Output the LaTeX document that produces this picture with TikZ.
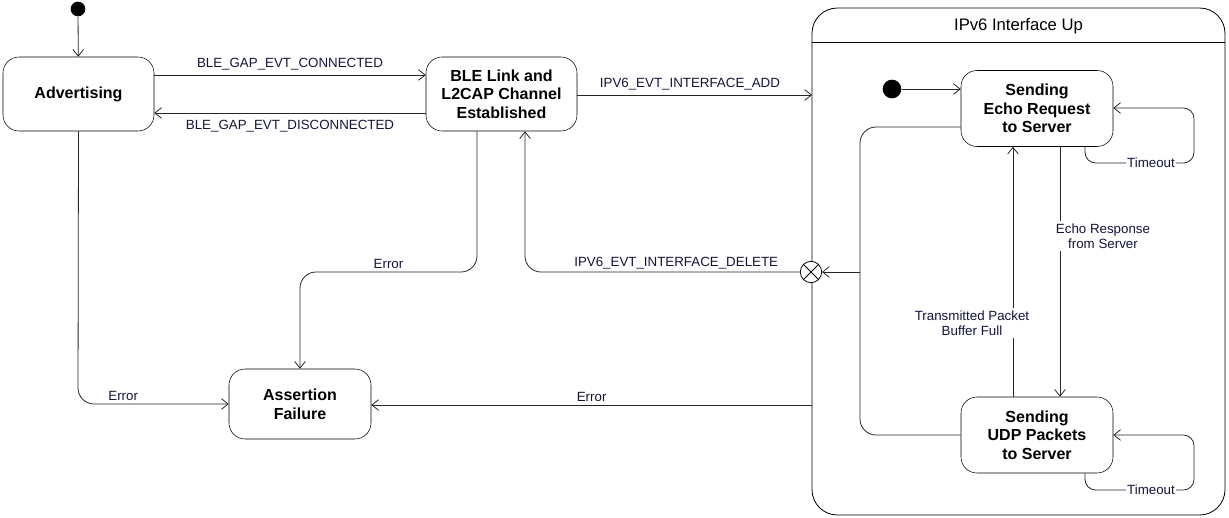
\documentclass[tikz,border=0pt]{standalone}
\usepackage{fontspec}
\setmainfont{Liberation Sans}
\usetikzlibrary{arrows.meta, positioning, calc}
\definecolor{lblink}{RGB}{20,20,60}
\tikzset{
  state/.style = {draw, rounded corners=12pt, align=center, font=\bfseries\fontsize{12}{14}\selectfont,
                  inner sep=0pt},
  init/.style  = {circle, fill=black, inner sep=0pt, minimum size=11pt},
  trans/.style = {-{Straight Barb[length=5pt, width=8pt]}, semithick, black!85, rounded corners=12pt},
  lbl/.style   = {font=\fontsize{10}{11.5}\selectfont, text=lblink, align=center, inner sep=1pt},
  wlbl/.style  = {lbl, fill=white, inner sep=2pt},
}

\begin{document}
\begin{tikzpicture}[x=0.75pt, y=-0.75pt]
  \useasboundingbox (0,0) rectangle (1229,518);

  % top level states
  \node[init] (start) at (78,9) {};
  \node[state, minimum width=113.25pt, minimum height=55.5pt] (adv) at (78.5,94) {Advertising};
  \node[state, minimum width=113.25pt, minimum height=55.5pt] (ble) at (501.5,94)
    {BLE Link and\\L2CAP Channel\\Established};
  \node[state, minimum width=106.5pt, minimum height=52.5pt] (fail) at (300,404)
    {Assertion\\Failure};

  % composite state
  \draw[semithick, rounded corners=19pt] (812,515) rectangle (1225,8);
  \draw[semithick] (812,42) -- (1225,42);
  \node[font=\fontsize{12.5}{14}\selectfont] (ifup) at (1018.5,26) {IPv6 Interface Up};
  \coordinate (ifleft) at (812,95);
  \coordinate (iferr) at (812,405);

  \node[init, minimum size=14pt] (start2) at (892,89) {};
  \node[state, minimum width=114pt, minimum height=57pt] (echo) at (1037,108.5)
    {Sending\\Echo Request\\to Server};
  \node[state, minimum width=114pt, minimum height=57pt] (udp) at (1037,435)
    {Sending\\UDP Packets\\to Server};

  % exit point
  \node[draw, semithick, circle, fill=white, minimum size=16pt, inner sep=0pt] (exitpt) at (811,272) {};
  \draw[semithick] (exitpt.north west) -- (exitpt.south east)
                   (exitpt.north east) -- (exitpt.south west);
  \coordinate (split) at (860,272);

  % transitions
  \draw[trans] (start) -- (adv);
  \draw[trans] (adv.east |- 0,75) -- node[lbl, above=2pt] {BLE\_GAP\_EVT\_CONNECTED} (ble.west |- 0,75);
  \draw[trans] (ble.west |- 0,113) -- node[lbl, below=4pt] {BLE\_GAP\_EVT\_DISCONNECTED} (adv.east |- 0,113);
  \draw[trans] (ble.east |- 0,95) -- node[lbl, above=2pt, pos=0.48] {IPV6\_EVT\_INTERFACE\_ADD} (ifleft);
  \draw[trans] (exitpt.west) -- node[lbl, above=1pt, pos=0.45] {IPV6\_EVT\_INTERFACE\_DELETE}
    (525,272) -- (ble.south -| 525,0);

  \draw[trans] (adv.south) -- (78,404) -- node[lbl, above=1pt, pos=0.3] {Error} (fail.west);
  \draw[trans] (ble.south -| 477,0) -- (477,272) -- node[lbl, above=1pt, pos=0.5] {Error}
    (300,272) -- (fail.north);
  \draw[trans] (iferr) -- node[lbl, above=1pt] {Error} (fail.east |- iferr);

  % inside IPv6 Interface Up
  \draw[trans] (start2) -- (echo.west |- start2);
  \draw[semithick, black!85, rounded corners=12pt] (echo.west |- 0,127) -| (split);
  \draw[semithick, black!85, rounded corners=12pt] (udp.west) -| (split);
  \draw[trans] (split) -- (exitpt.east);

  \draw[trans] (echo.south -| 1060,0) -- (udp.north -| 1060,0);
  \node[wlbl] (echolbl) at (1103,236) {Echo Response\\from Server};
  \draw[trans] (udp.north -| 1013,0) -- (echo.south -| 1013,0);
  \node[wlbl] (txlbl) at (972,323) {Transmitted Packet\\Buffer Full};

  \draw[trans, rounded corners=8pt] (echo.south -| 1085,0) -- (1085,163) -- (1194,163)
    -- (1194,108) -- (echo.east |- 0,108);
  \node[wlbl, inner sep=1pt] (tmo1) at (1151,163) {Timeout};
  \draw[trans, rounded corners=8pt] (udp.south -| 1085,0) -- (1085,490) -- (1194,490)
    -- (1194,435) -- (udp.east);
  \node[wlbl, inner sep=1pt] (tmo2) at (1151,490) {Timeout};
\end{tikzpicture}
\end{document}
